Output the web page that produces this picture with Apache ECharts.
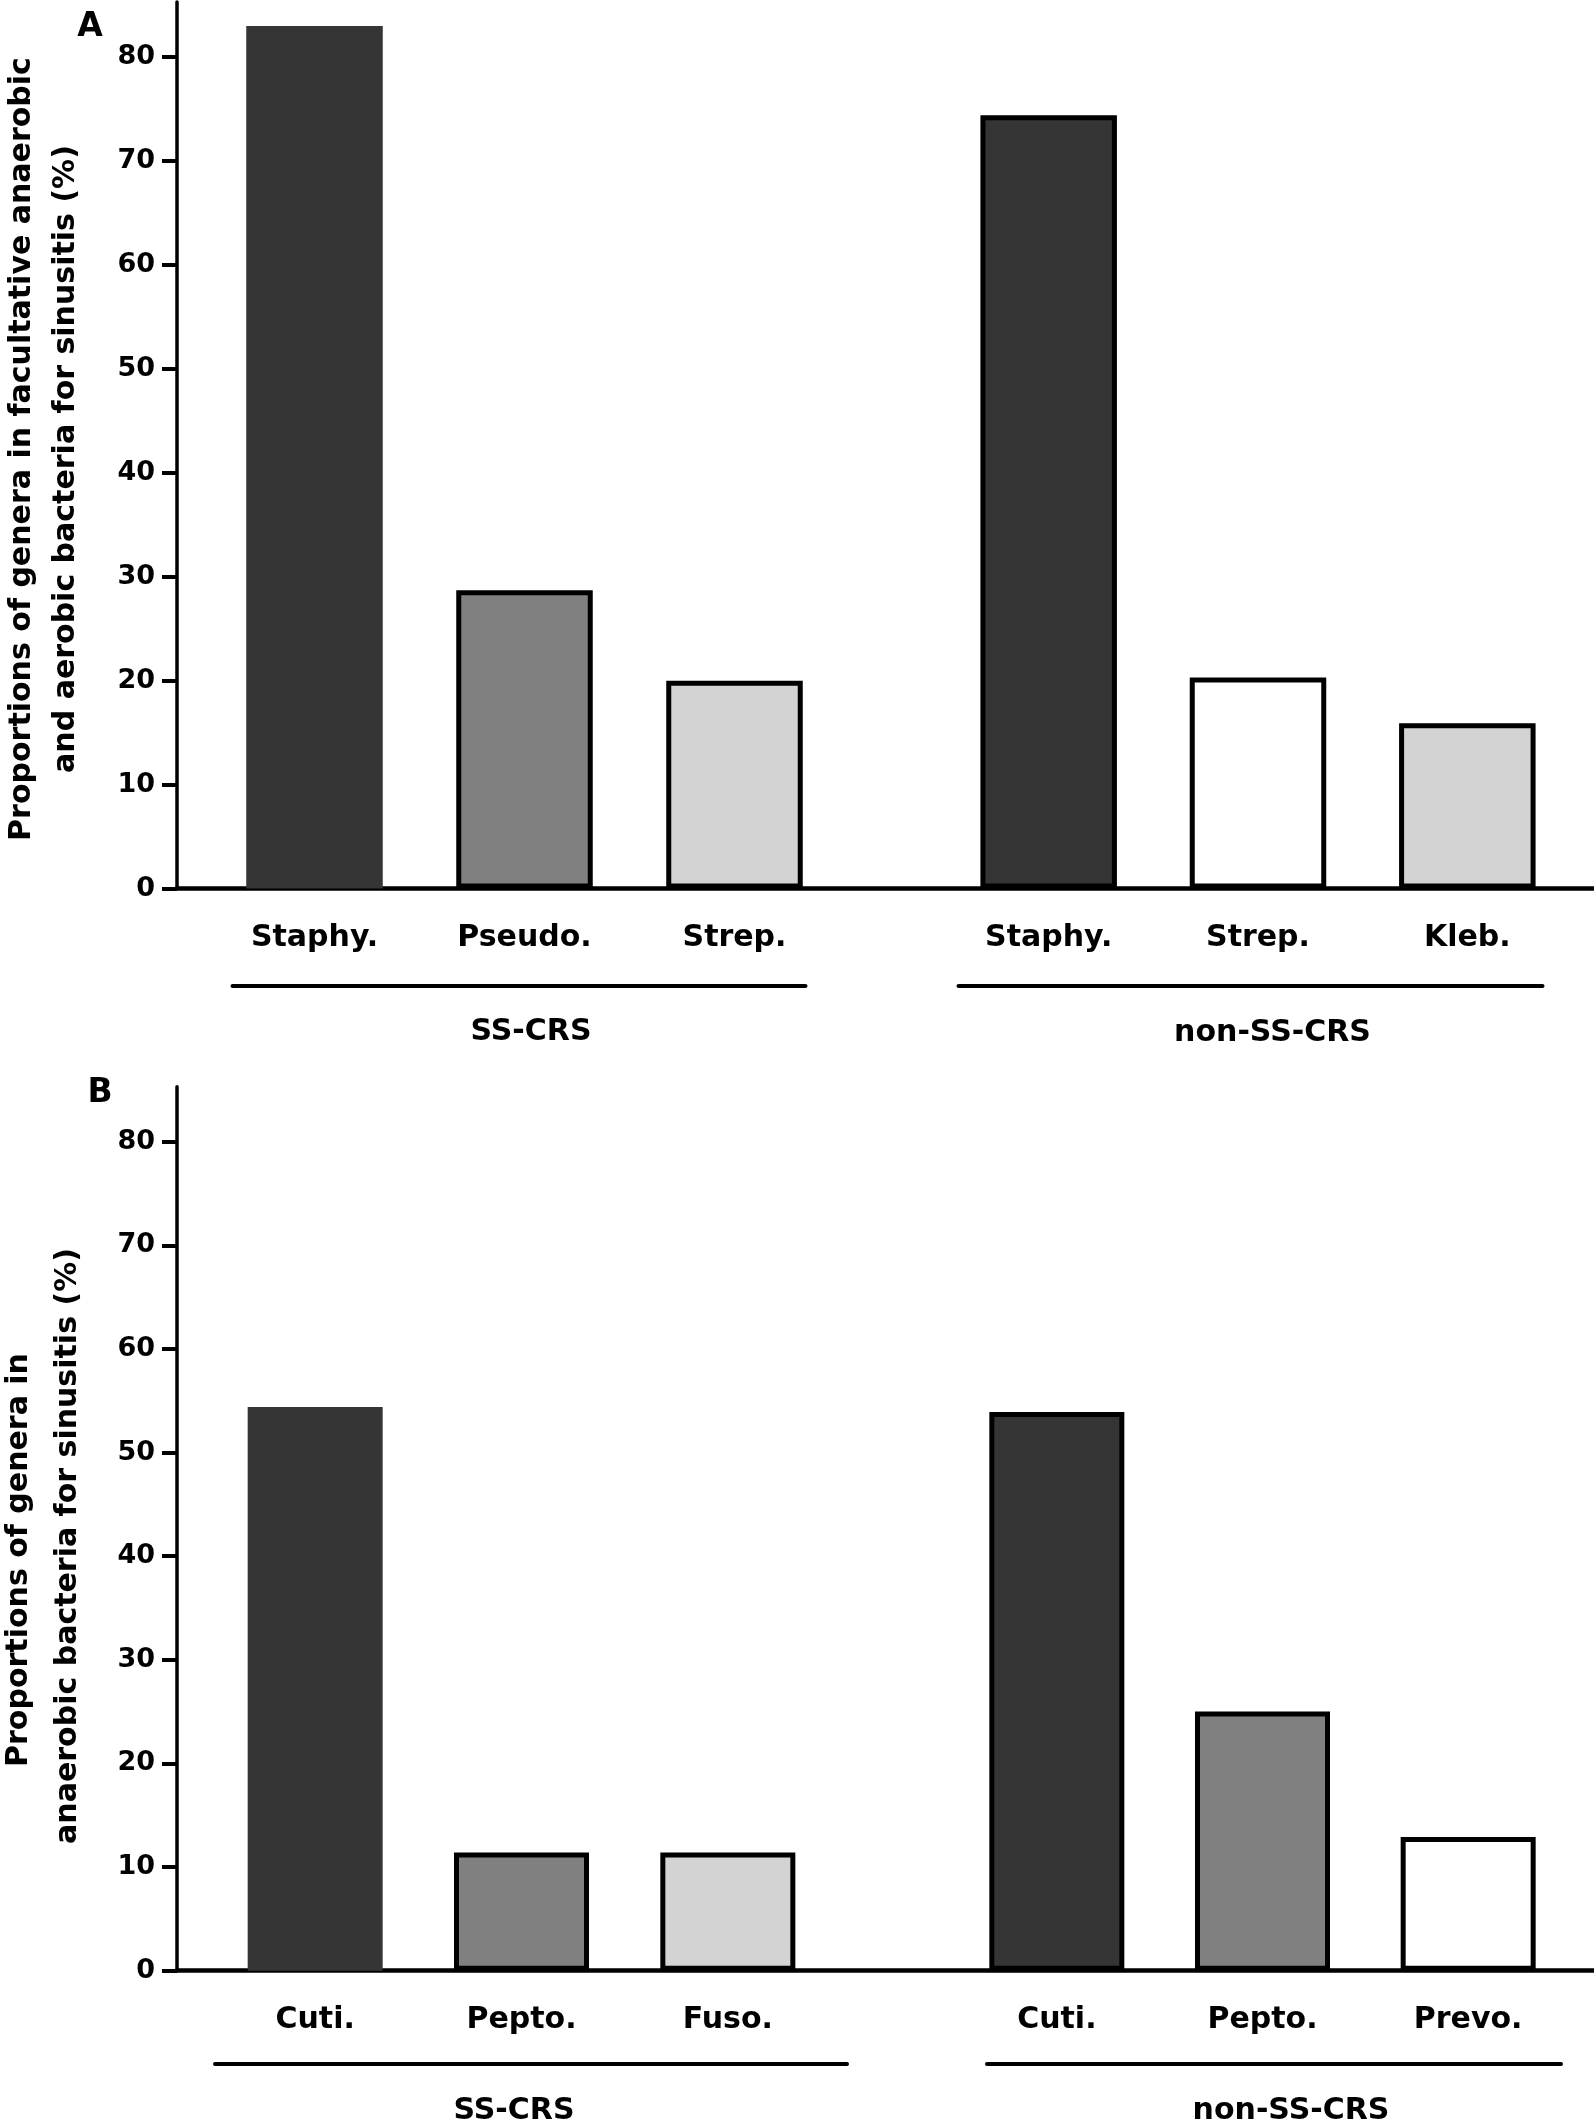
<!DOCTYPE html>
<html><head><meta charset="utf-8">
<script src="https://cdn.jsdelivr.net/npm/echarts@6/dist/echarts.min.js"></script>
<style>html,body{margin:0;padding:0;background:#fff}#c{width:1594px;height:2126px}</style>
</head><body><div id="c"></div>
<script>
// ---- data ----
const groupNames = ['SS-CRS', 'non-SS-CRS'];
const aSSCats = ['Staphy.', 'Pseudo.', 'Strep.'];
const aSSVals = [83.0, 28.7, 20.0];
const aNonCats = ['Staphy.', 'Strep.', 'Kleb.'];
const aNonVals = [74.4, 20.3, 15.9];
const bSSCats = ['Cuti.', 'Pepto.', 'Fuso.'];
const bSSVals = [54.4, 11.4, 11.4];
const bNonCats = ['Cuti.', 'Pepto.', 'Prevo.'];
const bNonVals = [53.9, 25.0, 12.9];
const yTicks = [0, 10, 20, 30, 40, 50, 60, 70, 80];
const yMax = 85.3;
const aTitle = ['Proportions of genera in facultative anaerobic', 'and aerobic bacteria for sinusitis (%)'];
const bTitle = ['Proportions of genera in', 'anaerobic bacteria for sinusitis (%)'];
const panelLetters = ['A', 'B'];

// ---- styles ----
const DARK = '#353535', MID = '#808080', LIGHT = '#d3d3d3', WHITE = '#ffffff';
const aSSColors = [DARK, MID, LIGHT], aNonColors = [DARK, WHITE, LIGHT];
const bSSColors = [DARK, MID, LIGHT], bNonColors = [DARK, MID, WHITE];
const H = 2126;
const FONT = 'DejaVu Sans';

const grids = [], xAxes = [], yAxes = [], series = [], graphics = [];

function addGrid(g, x, y) {
  grids.push(g);
  const i = grids.length - 1;
  x.gridIndex = i; y.gridIndex = i;
  xAxes.push(x); yAxes.push(y);
  return i;
}
function hiddenY() { return { type: 'value', min: 0, max: yMax, show: false }; }
function lbl(size, extra) {
  return Object.assign({ fontFamily: FONT, fontWeight: 'bold', fontSize: size, color: '#000', lineHeight: size }, extra || {});
}

function panel(p) {
  const bottom = H - p.y0;
  // frame axes
  addGrid({ left: 177, right: 0, top: p.top, bottom: bottom },
    { type: 'category', data: [''], axisLine: { onZero: false, lineStyle: { color: '#000', width: 4.5 } }, axisTick: { show: false }, axisLabel: { show: false } },
    { type: 'value', min: 0, max: yMax,
      axisLine: { show: true, lineStyle: { color: '#000', width: 3.5 } },
      axisTick: { show: true, length: 15, lineStyle: { color: '#000', width: 4 }, customValues: yTicks },
      axisLabel: Object.assign(lbl(27), { customValues: yTicks, margin: 22 }),
      splitLine: { show: false } });
  // bar groups
  p.groups.forEach((g) => {
    const gi = addGrid({ left: g.left, width: g.width, top: p.top, bottom: bottom },
      { type: 'category', data: g.cats, axisLine: { show: false, onZero: false }, axisTick: { show: false },
        axisLabel: Object.assign(lbl(30), { margin: 35, interval: 0 }) },
      hiddenY());
    series.push({
      type: 'bar', xAxisIndex: gi, yAxisIndex: gi, barWidth: p.barW, silent: true,
      data: g.vals.map((v, i) => ({ value: v, itemStyle: {
        color: g.colors[i],
        borderColor: (i === 0 && g.darkNoBorder) ? DARK : '#000',
        borderWidth: 5 } }))
    });
    // group underline + name
    addGrid({ left: g.lineLeft, width: g.lineWidth, top: p.top, bottom: bottom },
      { type: 'category', data: [g.name], offset: g.lineOff,
        axisLine: { onZero: false, lineStyle: { color: '#000', width: 4 } }, axisTick: { show: false },
        axisLabel: Object.assign(lbl(30), { margin: 32, padding: g.namePad }) },
      hiddenY());
  });
  // titles
  p.title.forEach((t, i) => {
    graphics.push({ type: 'text', x: p.titleX[i], y: p.titleY[i], rotation: Math.PI / 2, silent: true,
      style: { text: t, fill: '#000', font: 'bold 30px "DejaVu Sans"', align: 'center', verticalAlign: 'middle', textAlign: 'center', textVerticalAlign: 'middle' } });
  });
  graphics.push({ type: 'text', x: p.letterX, y: p.letterY, silent: true,
    style: { text: p.letter, fill: '#000', font: 'bold 33px "DejaVu Sans"', align: 'center', verticalAlign: 'middle', textAlign: 'center', textVerticalAlign: 'middle' } });
}

panel({
  top: 2, y0: 888.5, barW: 136.5, letter: panelLetters[0], letterX: 90, letterY: 27,
  title: aTitle, titleX: [22, 66], titleY: [449, 459],
  groups: [
    { cats: aSSCats, vals: aSSVals, colors: aSSColors, darkNoBorder: true, left: 209.5, width: 630,
      name: groupNames[0], lineLeft: 232.5, lineWidth: 573, lineOff: 97, namePad: [0, 0, 0, 24] },
    { cats: aNonCats, vals: aNonVals, colors: aNonColors, darkNoBorder: false, left: 944, width: 628,
      name: groupNames[1], lineLeft: 958.5, lineWidth: 584, lineOff: 97.5, namePad: [0, 0, 0, 44] }
  ]
});
panel({
  top: 1086.7, y0: 1970.7, barW: 135, letter: panelLetters[1], letterX: 100, letterY: 1093,
  title: bTitle, titleX: [19, 68], titleY: [1560, 1546],
  groups: [
    { cats: bSSCats, vals: bSSVals, colors: bSSColors, darkNoBorder: true, left: 212, width: 619,
      name: groupNames[0], lineLeft: 215, lineWidth: 632, lineOff: 96, namePad: [0, 34, 0, 0] },
    { cats: bNonCats, vals: bNonVals, colors: bNonColors, darkNoBorder: false, left: 954, width: 617,
      name: groupNames[1], lineLeft: 987, lineWidth: 574, lineOff: 94.5, namePad: [0, 0, 0, 34] }
  ]
});

const chart = echarts.init(document.getElementById('c'), null, { renderer: 'canvas' });
chart.setOption({
  animation: false,
  backgroundColor: '#fff',
  grid: grids, xAxis: xAxes, yAxis: yAxes, series: series, graphic: graphics
});
</script></body></html>
